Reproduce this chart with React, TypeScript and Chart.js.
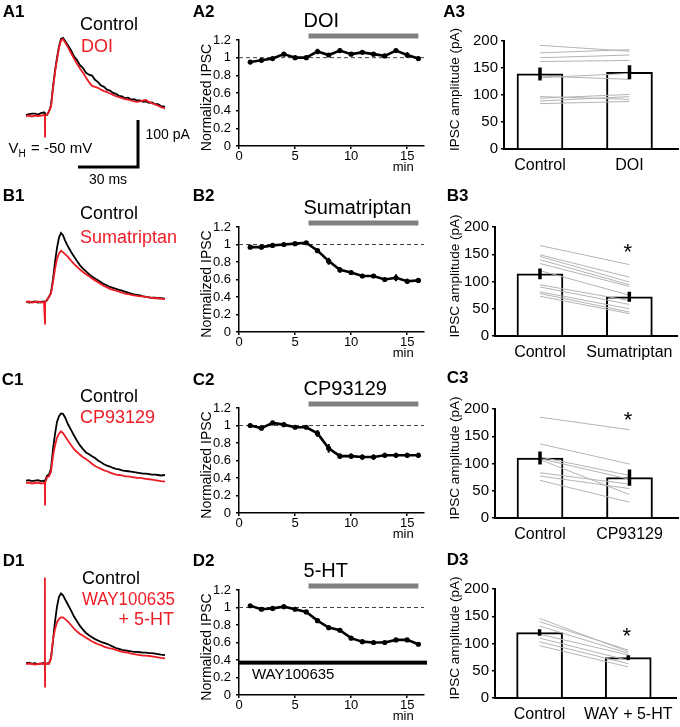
import React, { useEffect, useRef } from "react";
import { Chart, registerables } from "chart.js";
Chart.register(...registerables);

const FAMILY = "'Liberation Sans', Arial, Helvetica, sans-serif";
Chart.defaults.font.family = FAMILY;
Chart.defaults.color = "#000";
const RED = "#ee1c24";

// ---------- Column 1: IPSC traces (time in ms, current in pA above baseline) ----------
const TRACE_T = [0, 1.5, 3, 4.5, 6, 7.5, 9, 9.45, 9.5, 9.55, 10.5, 11.5, 12.5, 13.5, 14.5, 15.5, 16.5, 17.5, 18.5, 19.5,
  21, 22.5, 24, 25.5, 27, 28.5, 30, 31.5, 33, 34.5, 36, 37.5, 39, 40.5, 42, 43.5, 45, 46.5, 48, 49.5,
  51, 52.5, 54, 55.5, 57, 58.5, 60, 61.5, 63, 64.5, 66, 67.5, 69.5];

const A1_CONTROL = [2, 4, 5, 5, 3, 6, 8, 3, 1, 3, 2, 10, 22, 62, 96, 124, 148, 164, 166, 160,
  150, 140, 127, 119, 108, 102, 92, 88, 86, 77, 72, 65, 62, 56, 54, 49, 47, 43, 42, 38,
  39, 35, 36, 33, 33, 30, 31, 28, 29, 25, 25, 21, 20];
const A1_DRUG = [0, 1, -1, 1, 0, 1, 2, 1, -44, 1, 3, 10, 20, 58, 93, 120, 145, 161, 164, 157,
  146, 134, 122, 111, 101, 92, 82, 72, 64, 62, 60, 56, 53, 51, 48, 45, 42, 40, 38, 36,
  35, 33, 31, 30, 31, 33, 34, 30, 27, 25, 22, 19, 16];

const B1_CONTROL = [1, -1, 0, 1, -1, 0, 1, 0, -2, 0, 4, 11, 20, 48, 85, 115, 137, 147, 142, 131,
  118, 107, 97, 87, 78, 71, 65, 59, 54, 50, 46, 42, 38, 35, 32, 30, 28, 26, 24, 22,
  20, 18, 16, 15, 14, 12, 11, 10, 9, 9, 8, 8, 7];
const B1_DRUG = [0, 1, -1, 0, 1, -1, 0, 0, -46, 0, 5, 11, 18, 42, 70, 92, 103, 109, 106, 102,
  96, 88, 81, 75, 69, 64, 59, 55, 50, 46, 42, 38, 34, 31, 28, 26, 24, 22, 20, 18,
  17, 15, 14, 13, 12, 12, 11, 10, 9, 8, 8, 7, 6];

const C1_CONTROL = [5, 6, 4, 5, 6, 4, 5, 5, 3, 5, 15, 18, 30, 72, 104, 130, 142, 148, 147, 140,
  125, 113, 101, 90, 80, 72, 65, 61, 57, 53, 48, 44, 40, 37, 35, 32, 30, 29, 27, 26,
  25, 24, 23, 22, 21, 20, 20, 19, 18, 18, 17, 16, 17];
const C1_DRUG = [0, 1, -1, 0, 1, -1, 0, 1, -46, 0, 12, 14, 24, 58, 80, 96, 105, 110, 106, 100,
  90, 81, 72, 66, 60, 55, 51, 46, 41, 36, 33, 30, 27, 25, 22, 20, 18, 17, 16, 14,
  14, 13, 12, 11, 11, 10, 9, 8, 7, 6, 5, 4, 3];

const D1_CONTROL = [2, 3, 1, 2, 0, 1, 2, 1, 2, 1, 1, 2, 12, 50, 90, 122, 143, 150, 146, 138,
  126, 114, 101, 91, 81, 73, 66, 61, 57, 53, 50, 47, 45, 43, 40, 37, 34, 32, 30, 29,
  28, 27, 26, 26, 25, 24, 24, 23, 23, 22, 21, 20, 19];
const D1_DRUG = [0, 1, 0, -1, 0, 1, 0, 184, -48, 0, 1, 0, 12, 52, 74, 89, 96, 99, 99, 96,
  90, 83, 75, 69, 64, 60, 56, 52, 48, 45, 42, 40, 37, 35, 33, 32, 30, 28, 26, 25,
  24, 22, 21, 20, 19, 18, 18, 17, 16, 15, 14, 13, 12];

const SCALE_BAR_T = [26, 56, 56];
const SCALE_BAR_PA = [-108.5, -108.5, -8.5];

// ---------- Column 2: time courses ----------
const MINUTES = [1, 2, 3, 4, 5, 6, 7, 8, 9, 10, 11, 12, 13, 14, 15, 16];
const A2_MEAN = [0.95, 0.97, 0.99, 1.04, 1.0, 1.0, 1.07, 1.03, 1.08, 1.04, 1.06, 1.04, 1.02, 1.08, 1.03, 0.99];
const A2_SEM = [0.02, 0.02, 0.02, 0.02, 0.02, 0.02, 0.03, 0.02, 0.02, 0.02, 0.02, 0.02, 0.02, 0.02, 0.03, 0.02];
const B2_MEAN = [0.97, 0.97, 0.99, 1.0, 1.01, 1.02, 0.93, 0.81, 0.71, 0.68, 0.64, 0.64, 0.6, 0.62, 0.58, 0.59];
const B2_SEM = [0.02, 0.02, 0.02, 0.02, 0.02, 0.02, 0.02, 0.04, 0.03, 0.02, 0.02, 0.02, 0.02, 0.04, 0.03, 0.02];
const C2_MEAN = [1.0, 0.97, 1.03, 1.01, 0.98, 0.98, 0.91, 0.74, 0.65, 0.65, 0.64, 0.64, 0.66, 0.66, 0.66, 0.66];
const C2_SEM = [0.01, 0.01, 0.01, 0.01, 0.01, 0.01, 0.04, 0.05, 0.03, 0.03, 0.03, 0.03, 0.03, 0.03, 0.03, 0.03];
const D2_MEAN = [1.02, 0.98, 0.99, 1.01, 0.98, 0.95, 0.85, 0.77, 0.74, 0.65, 0.61, 0.6, 0.6, 0.63, 0.63, 0.58];
const D2_SEM = [0.01, 0.01, 0.01, 0.01, 0.01, 0.01, 0.01, 0.015, 0.015, 0.015, 0.01, 0.01, 0.01, 0.01, 0.01, 0.015];
const DRUG_START = 6.2;
const DRUG_END = 16;
const WAY_LEVEL = 0.37;
const DRUGS = ["DOI", "Sumatriptan", "CP93129", "5-HT"];

// ---------- Column 3: amplitudes ----------
const A3_LABELS = ["Control", "DOI"];
const A3_MEAN = [139, 142];
const A3_SEM = [12, 13];
const A3_CONTROL = [192, 178, 169, 162, 135, 132, 97, 94, 89, 84];
const A3_DRUG = [181, 184, 174, 164, 129, 140, 92, 101, 97, 88];

const B3_LABELS = ["Control", "Sumatriptan"];
const B3_MEAN = [114, 72];
const B3_SEM = [10, 9];
const B3_CONTROL = [166, 149, 146, 140, 133, 120, 94, 90, 81, 78, 73];
const B3_DRUG = [131, 108, 99, 94, 91, 75, 65, 58, 50, 44, 41];

const C3_LABELS = ["Control", "CP93129"];
const C3_MEAN = [110, 74];
const C3_SEM = [12, 15];
const C3_CONTROL = [185, 136, 112, 109, 107, 83, 77, 69];
const C3_DRUG = [162, 99, 78, 71, 43, 62, 54, 29];

const D3_LABELS = ["Control", "WAY + 5-HT"];
const D3_MEAN = [120, 74];
const D3_SEM = [6, 4.5];
const D3_CONTROL = [146, 140, 132, 117, 110, 103, 96];
const D3_DRUG = [85, 88, 82, 79, 69, 63, 57];

// ---------- helpers ----------
type Txt = { t: string; x: number; y: number; size: number; bold?: boolean; color?: string; align?: CanvasTextAlign; rot?: boolean; maxW?: number };

function drawTexts(ctx: CanvasRenderingContext2D, items: Txt[]) {
  items.forEach((it) => {
    ctx.save();
    ctx.font = `${it.bold ? "bold " : ""}${it.size}px ${FAMILY}`;
    ctx.fillStyle = it.color || "#000";
    ctx.textAlign = it.align || "left";
    ctx.textBaseline = "middle";
    ctx.translate(it.x, it.y);
    if (it.rot) ctx.rotate(-Math.PI / 2);
    if (it.maxW) ctx.fillText(it.t, 0, 0, it.maxW);
    else ctx.fillText(it.t, 0, 0);
    ctx.restore();
  });
}

const baseOpts = () => ({
  animation: false as const,
  responsive: false,
  events: [] as any[],
  plugins: { legend: { display: false }, tooltip: { enabled: false } },
});

const TRACE_W = 190;
const TRACE_H = 186;
const BASE_Y = 116;
const PX_PER_PA = 0.47;

function traceCfg(ctrl: number[], drug: number[], texts: Txt[], withScale: boolean) {
  const ds: any[] = [
    { data: TRACE_T.map((t, i) => ({ x: t, y: drug[i] })), borderColor: RED, borderWidth: 1.8, pointRadius: 0 },
    { data: TRACE_T.map((t, i) => ({ x: t, y: ctrl[i] })), borderColor: "#000", borderWidth: 1.8, pointRadius: 0 },
  ];
  if (withScale) {
    ds.push({
      data: SCALE_BAR_T.map((t, i) => ({ x: t, y: SCALE_BAR_PA[i] })),
      borderColor: "#000", borderWidth: 3, pointRadius: 0, borderJoinStyle: "miter",
    });
  }
  return {
    type: "line",
    data: { datasets: ds },
    options: {
      ...baseOpts(),
      layout: { padding: 0 },
      scales: {
        x: { type: "linear", display: false, min: -13, max: -13 + TRACE_W / 2 },
        y: { type: "linear", display: false, min: -(TRACE_H - BASE_Y) / PX_PER_PA, max: BASE_Y / PX_PER_PA },
      },
    },
    plugins: [{ id: "txt", afterDraw: (c: any) => drawTexts(c.ctx, texts) }],
  };
}

const axisGrid = { display: true, drawOnChartArea: false, drawTicks: true, tickLength: 3, color: "#000", lineWidth: 1.5 };

function timeCfg(mean: number[], sem: number[], padTop: number, drug: string, panel: string, panelY: number, way: boolean) {
  const err: any[] = [];
  MINUTES.forEach((m, i) => {
    err.push({ x: m, y: mean[i] - sem[i] }, { x: m, y: mean[i] + sem[i] }, { x: m, y: null });
  });
  return {
    type: "line",
    data: {
      datasets: [
        { data: MINUTES.map((m, i) => ({ x: m, y: mean[i] })), borderColor: "#000", backgroundColor: "#000", borderWidth: 2.6, pointRadius: 2.6, pointBorderWidth: 0 },
        { data: err, borderColor: "#000", borderWidth: 2, pointRadius: 0, spanGaps: false },
        { data: [{ x: 0, y: 1 }, { x: 16.5, y: 1 }], borderColor: "#444", borderWidth: 1, borderDash: [4, 3], pointRadius: 0 },
      ],
    },
    options: {
      ...baseOpts(),
      layout: { padding: { top: padTop, right: 16, left: 0, bottom: 0 } },
      scales: {
        x: {
          type: "linear", min: 0, max: 16.5,
          afterFit: (s: any) => { s.height = 30; },
          ticks: { stepSize: 5, includeBounds: false, padding: 0, font: { size: 13 }, color: "#000", maxRotation: 0, autoSkip: false },
          grid: axisGrid,
          border: { display: true, color: "#000", width: 1.5 },
        },
        y: {
          type: "linear", min: 0, max: 1.2,
          afterFit: (s: any) => { s.width = 49; },
          ticks: { stepSize: 0.2, autoSkip: false, padding: 5, font: { size: 13 }, color: "#000", callback: (v: any) => String(Math.round(v * 10) / 10) },
          grid: axisGrid,
          border: { display: true, color: "#000", width: 1.5 },
        },
      },
    },
    plugins: [{
      id: "deco",
      afterDraw: (c: any) => {
        const ctx = c.ctx;
        const ca = c.chartArea;
        const xs = c.scales.x;
        const ys = c.scales.y;
        const x0 = xs.getPixelForValue(DRUG_START);
        const x1 = xs.getPixelForValue(DRUG_END);
        ctx.save();
        ctx.fillStyle = "#808080";
        ctx.fillRect(x0, ca.top - 6.5, x1 - x0, 5);
        if (way) {
          ctx.fillStyle = "#000";
          ctx.fillRect(ca.left, ys.getPixelForValue(WAY_LEVEL) - 2, ca.right - ca.left + 3, 4);
        }
        ctx.restore();
        const items: Txt[] = [
          { t: drug, x: x0 - 5, y: ca.top - 19, size: 20 },
          { t: panel, x: 2.7, y: panelY, size: 17, bold: true },
          { t: "Normalized IPSC", x: 17, y: (ca.top + ca.bottom) / 2 + 4.5, size: 14, rot: true, align: "center" },
          { t: "min", x: xs.getPixelForValue(15) - 4, y: ca.bottom + 21, size: 13, align: "center" },
        ];
        if (way) items.push({ t: "WAY100635", x: xs.getPixelForValue(1.15), y: ys.getPixelForValue(0.23), size: 15 });
        drawTexts(ctx, items);
      },
    }],
  };
}

function barCfg(labels: string[], mean: number[], sem: number[], ctrl: number[], drug: number[],
  yW: number, xMin: number, padTop: number, panel: string, panelX: number, panelY: number, starY: number | null) {
  const pairs: any[] = [];
  ctrl.forEach((v, i) => { pairs.push({ x: 1, y: v }, { x: 2, y: drug[i] }, { x: 2, y: null }); });
  const err: any[] = [];
  mean.forEach((m, i) => { err.push({ x: i + 1, y: m - sem[i] }, { x: i + 1, y: m + sem[i] }, { x: i + 1, y: null }); });
  return {
    type: "bar",
    data: {
      datasets: [
        { type: "line", data: err, borderColor: "#000", borderWidth: 3.5, pointRadius: 0, spanGaps: false },
        { type: "line", data: pairs, borderColor: "#b4b4b4", borderWidth: 1, pointRadius: 0, spanGaps: false },
        { type: "bar", data: mean.map((m, i) => ({ x: i + 1, y: m })), backgroundColor: "#fff", borderColor: "#000", borderWidth: 2, barThickness: 46 },
      ],
    },
    options: {
      ...baseOpts(),
      layout: { padding: { top: padTop, right: 2, left: 0, bottom: 0 } },
      scales: {
        x: {
          type: "linear", min: xMin, max: 2.542, offset: false,
          afterFit: (s: any) => { s.height = 28; },
          afterBuildTicks: (s: any) => { s.ticks = [{ value: 1 }, { value: 2 }]; },
          ticks: { callback: (v: any) => labels[Math.round(v) - 1], font: { size: 16 }, padding: 7, color: "#000", autoSkip: false, maxRotation: 0 },
          grid: { display: false, drawTicks: false },
          border: { display: true, color: "#000", width: 2 },
        },
        y: {
          type: "linear", min: 0, max: 200,
          afterFit: (s: any) => { s.width = yW; },
          ticks: { stepSize: 50, autoSkip: false, font: { size: 15 }, padding: 3, color: "#000" },
          grid: axisGrid,
          border: { display: true, color: "#000", width: 2 },
        },
      },
    },
    plugins: [{
      id: "deco",
      afterDraw: (c: any) => {
        const ca = c.chartArea;
        const items: Txt[] = [
          { t: panel, x: panelX, y: panelY, size: 17, bold: true },
          { t: "IPSC amplitude (pA)", x: 15, y: (ca.top + ca.bottom) / 2 - 5.5, size: 13.5, rot: true, align: "center" },
        ];
        if (starY !== null) items.push({ t: "*", x: c.scales.x.getPixelForValue(2) - 1.5, y: starY + 5, size: 22, align: "center" });
        drawTexts(c.ctx, items);
      },
    }],
  };
}

function Panel({ left, top, width, height, make }: { left: number; top: number; width: number; height: number; make: () => any }) {
  const ref = useRef<HTMLCanvasElement>(null);
  useEffect(() => {
    const chart = new Chart(ref.current as HTMLCanvasElement, make());
    return () => chart.destroy();
  }, []);
  return (
    <canvas ref={ref} width={width} height={height}
      style={{ position: "absolute", left, top, width, height, display: "block" }} />
  );
}

const aTexts: Txt[] = [
  { t: "A1", x: 2.7, y: 12, size: 17, bold: true },
  { t: "Control", x: 80, y: 25, size: 18 },
  { t: "DOI", x: 81, y: 47, size: 18, color: RED },
  { t: "V", x: 8.5, y: 149, size: 15 },
  { t: "H", x: 18.5, y: 154, size: 10 },
  { t: "= -50 mV", x: 31, y: 149, size: 15 },
  { t: "100 pA", x: 145.5, y: 135, size: 14 },
  { t: "30 ms", x: 108, y: 180, size: 14, align: "center" },
];
const bTexts: Txt[] = [
  { t: "B1", x: 2.7, y: 10.7, size: 17, bold: true },
  { t: "Control", x: 80, y: 28, size: 18 },
  { t: "Sumatriptan", x: 80, y: 51.7, size: 18, color: RED },
];
const cTexts: Txt[] = [
  { t: "C1", x: 1.7, y: 13.7, size: 17, bold: true },
  { t: "Control", x: 80, y: 29.7, size: 18 },
  { t: "CP93129", x: 80, y: 51, size: 18, color: RED },
];
const dTexts: Txt[] = [
  { t: "D1", x: 2.7, y: 13.7, size: 17, bold: true },
  { t: "Control", x: 82, y: 31, size: 18 },
  { t: "WAY100635", x: 82, y: 52, size: 18, color: RED, maxW: 93 },
  { t: "+ 5-HT", x: 174, y: 72, size: 18, color: RED, align: "right" },
];

export default function App() {
  return (
    <div style={{ position: "fixed", left: 0, top: 0, width: 680, height: 727, overflow: "hidden", background: "#fff" }}>
      <Panel left={0} top={0} width={TRACE_W} height={TRACE_H} make={() => traceCfg(A1_CONTROL, A1_DRUG, aTexts, true)} />
      <Panel left={0} top={186} width={TRACE_W} height={TRACE_H} make={() => traceCfg(B1_CONTROL, B1_DRUG, bTexts, false)} />
      <Panel left={0} top={367} width={TRACE_W} height={TRACE_H} make={() => traceCfg(C1_CONTROL, C1_DRUG, cTexts, false)} />
      <Panel left={0} top={548} width={TRACE_W} height={TRACE_H} make={() => traceCfg(D1_CONTROL, D1_DRUG, dTexts, false)} />

      <Panel left={190} top={0} width={250} height={176} make={() => timeCfg(A2_MEAN, A2_SEM, 40, DRUGS[0], "A2", 12, false)} />
      <Panel left={190} top={186} width={250} height={176} make={() => timeCfg(B2_MEAN, B2_SEM, 41, DRUGS[1], "B2", 10.7, false)} />
      <Panel left={190} top={367} width={250} height={176} make={() => timeCfg(C2_MEAN, C2_SEM, 41, DRUGS[2], "C2", 13.7, false)} />
      <Panel left={190} top={549} width={250} height={176} make={() => timeCfg(D2_MEAN, D2_SEM, 41, DRUGS[3], "D2", 12.7, true)} />

      <Panel left={440} top={0} width={240} height={177} make={() => barCfg(A3_LABELS, A3_MEAN, A3_SEM, A3_CONTROL, A3_DRUG, 64, 0.598, 41, "A3", 3.3, 12.5, null)} />
      <Panel left={440} top={186} width={240} height={178} make={() => barCfg(B3_LABELS, B3_MEAN, B3_SEM, B3_CONTROL, B3_DRUG, 55, 0.497, 41, "B3", 6.7, 10.7, 62)} />
      <Panel left={440} top={367} width={240} height={179} make={() => barCfg(C3_LABELS, C3_MEAN, C3_SEM, C3_CONTROL, C3_DRUG, 55, 0.497, 42, "C3", 6.7, 11.3, 49)} />
      <Panel left={440} top={549} width={240} height={177} make={() => barCfg(D3_LABELS, D3_MEAN, D3_SEM, D3_CONTROL, D3_DRUG, 55, 0.497, 40, "D3", 6.7, 11.7, 83)} />
    </div>
  );
}
